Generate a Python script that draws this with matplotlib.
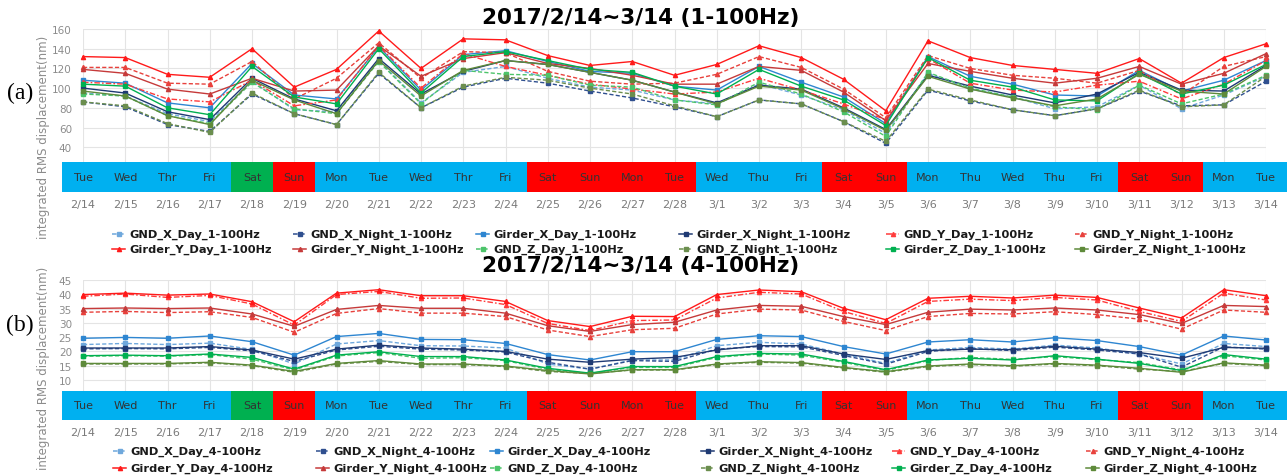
import matplotlib
matplotlib.use("Agg")
import matplotlib.pyplot as plt

# ---- data -------------------------------------------------------------
dates = ['2/14', '2/15', '2/16', '2/17', '2/18', '2/19', '2/20', '2/21', '2/22',
         '2/23', '2/24', '2/25', '2/26', '2/27', '2/28', '3/1', '3/2', '3/3',
         '3/4', '3/5', '3/6', '3/7', '3/8', '3/9', '3/10', '3/11', '3/12',
         '3/13', '3/14']
weekdays = ['Tue', 'Wed', 'Thr', 'Fri', 'Sat', 'Sun', 'Mon', 'Tue', 'Wed', 'Thr',
            'Fri', 'Sat', 'Sun', 'Mon', 'Tue', 'Wed', 'Thu', 'Fri', 'Sat', 'Sun',
            'Mon', 'Thu', 'Wed', 'Thu', 'Fri', 'Sat', 'Sun', 'Mon', 'Tue']
# band colour class per day: 'w' work day, 'g' green, 'r' red
day_class = ['w', 'w', 'w', 'w', 'g', 'r', 'w', 'w', 'w', 'w', 'w', 'r', 'r', 'r',
             'r', 'w', 'w', 'w', 'r', 'r', 'w', 'w', 'w', 'w', 'w', 'r', 'r', 'w', 'w']

series_names = ['GND_X_Day', 'GND_X_Night', 'Girder_X_Day', 'Girder_X_Night',
                'GND_Y_Day', 'GND_Y_Night', 'Girder_Y_Day', 'Girder_Y_Night',
                'GND_Z_Day', 'GND_Z_Night', 'Girder_Z_Day', 'Girder_Z_Night']

# (a) 1-100Hz
gnd_x_day_1 = [95, 92, 74, 66, 107, 78, 76, 128, 85, 116, 122, 110, 101, 98, 88,
               84, 104, 93, 78, 54, 115, 99, 91, 79, 81, 103, 79, 93, 112]
gnd_x_night_1 = [86, 81, 63, 56, 94, 74, 63, 115, 80, 101, 110, 105, 97, 90, 81,
                 71, 88, 84, 66, 44, 98, 87, 78, 72, 79, 97, 82, 83, 107]
girder_x_day_1 = [108, 105, 85, 80, 125, 93, 89, 142, 98, 134, 138, 127, 117, 115, 102,
                  98, 122, 106, 91, 64, 132, 112, 104, 93, 92, 118, 97, 108, 128]
girder_x_night_1 = [100, 95, 76, 68, 110, 89, 77, 130, 94, 117, 128, 124, 116, 108, 96,
                    85, 103, 99, 80, 58, 113, 102, 93, 85, 94, 116, 98, 97, 123]
gnd_y_day_1 = [106, 104, 89, 86, 108, 82, 88, 143, 100, 135, 122, 113, 104, 99, 94,
               96, 110, 98, 84, 68, 130, 105, 98, 96, 103, 107, 89, 104, 128]
gnd_y_night_1 = [121, 121, 105, 104, 127, 89, 110, 146, 110, 137, 136, 117, 107, 104, 105,
                 114, 132, 121, 99, 70, 133, 120, 113, 110, 105, 118, 93, 122, 132]
girder_y_day_1 = [132, 131, 114, 111, 140, 101, 119, 158, 120, 150, 149, 133, 123, 127, 113,
                  124, 143, 131, 109, 77, 148, 131, 123, 119, 115, 130, 105, 131, 145]
girder_y_night_1 = [119, 115, 99, 94, 110, 97, 98, 143, 112, 130, 136, 125, 120, 113, 104,
                    104, 122, 118, 96, 67, 125, 117, 110, 105, 110, 122, 104, 115, 135]
gnd_z_day_1 = [94, 92, 72, 64, 106, 79, 74, 127, 84, 118, 114, 113, 103, 101, 88,
               83, 106, 94, 76, 51, 116, 100, 91, 81, 78, 103, 84, 94, 113]
gnd_z_night_1 = [86, 82, 64, 55, 95, 74, 63, 116, 80, 102, 111, 108, 100, 94, 82,
                 71, 88, 84, 66, 46, 99, 88, 78, 72, 79, 98, 81, 83, 112]
girder_z_day_1 = [104, 102, 80, 73, 122, 91, 84, 140, 95, 132, 137, 128, 119, 116, 102,
                  94, 119, 102, 88, 62, 131, 108, 101, 88, 87, 115, 94, 103, 124]
girder_z_night_1 = [97, 92, 72, 63, 108, 88, 74, 128, 92, 118, 128, 124, 116, 108, 96,
                    84, 102, 98, 79, 57, 112, 99, 90, 82, 89, 114, 97, 94, 122]

# (b) 4-100Hz
gnd_x_day_4 = [22.4, 22.8, 22.4, 22.9, 20.7, 15.6, 22.6, 23.8, 22.0, 21.9, 21.2, 15.6,
               13.8, 17.0, 17.0, 22.0, 23.2, 22.6, 19.1, 15.8, 20.5, 21.4, 20.8, 22.2,
               21.2, 19.1, 15.6, 22.8, 21.7]
gnd_x_night_4 = [20.9, 21.0, 20.9, 21.4, 20.2, 16.5, 20.5, 21.8, 20.8, 20.5, 19.8, 16.2,
                 13.8, 16.8, 16.5, 20.8, 21.7, 21.6, 18.6, 15.5, 20.0, 21.0, 20.3, 21.5,
                 20.5, 19.1, 14.5, 21.6, 20.8]
girder_x_day_4 = [24.6, 24.9, 24.6, 25.4, 23.4, 18.7, 25.2, 26.3, 24.2, 24.1, 22.8, 18.9,
                  17.0, 19.9, 19.9, 24.2, 25.5, 25.2, 21.7, 19.1, 23.3, 24.1, 23.3, 24.8,
                  23.8, 21.7, 18.7, 25.4, 24.0]
girder_x_night_4 = [21.2, 21.2, 21.2, 21.7, 20.5, 17.3, 20.8, 22.2, 21.2, 20.8, 20.0, 17.3,
                    16.2, 17.3, 17.9, 20.5, 22.0, 22.0, 19.1, 17.2, 20.3, 20.8, 20.6, 21.8,
                    20.8, 19.6, 17.6, 21.4, 21.1]
gnd_y_day_4 = [39.3, 40.1, 38.9, 39.6, 36.6, 29.2, 39.9, 41.0, 38.6, 38.7, 36.4, 29.8,
               27.3, 30.8, 31.0, 38.7, 40.7, 40.1, 34.0, 29.8, 37.5, 38.3, 37.8, 38.9,
               38.0, 34.0, 30.5, 40.4, 38.0]
gnd_y_night_4 = [33.7, 34.0, 33.6, 33.9, 31.9, 26.7, 33.3, 35.0, 33.4, 33.4, 32.2, 27.5,
                 25.2, 27.6, 28.1, 33.1, 34.8, 34.5, 30.5, 27.3, 32.2, 33.3, 33.1, 33.9,
                 32.9, 31.3, 27.8, 34.5, 33.7]
girder_y_day_4 = [39.9, 40.4, 39.7, 40.1, 37.4, 30.4, 40.4, 41.6, 39.5, 39.5, 37.5, 30.8,
                  28.7, 32.3, 32.2, 39.9, 41.5, 40.9, 35.1, 31.1, 38.6, 39.3, 38.7, 39.7,
                  38.9, 35.2, 31.7, 41.6, 39.5]
girder_y_night_4 = [35.0, 35.2, 35.0, 35.2, 33.1, 28.8, 34.7, 36.1, 35.1, 35.1, 33.4, 29.0,
                    27.0, 29.4, 30.2, 34.5, 36.1, 35.8, 32.2, 29.4, 33.7, 34.8, 34.5, 35.2,
                    34.5, 32.9, 29.8, 36.1, 35.7]
gnd_z_day_4 = [18.3, 18.5, 18.3, 18.9, 17.3, 13.5, 18.4, 19.6, 17.6, 17.8, 16.8, 13.7,
               12.3, 14.4, 14.4, 17.9, 19.1, 18.7, 16.2, 13.3, 16.8, 17.9, 17.2, 18.2,
               17.1, 16.1, 13.5, 18.5, 17.0]
gnd_z_night_4 = [15.6, 15.6, 15.6, 16.0, 15.0, 12.7, 15.6, 16.5, 15.4, 15.4, 14.7, 13.0,
                 12.3, 13.5, 13.5, 15.4, 16.2, 15.9, 14.2, 12.7, 14.7, 15.4, 14.8, 15.6,
                 15.0, 13.8, 13.0, 15.8, 15.0]
girder_z_day_4 = [18.5, 18.7, 18.5, 19.1, 17.9, 13.8, 18.7, 19.9, 18.2, 18.2, 17.0, 14.1,
                  12.4, 14.7, 14.7, 18.2, 19.3, 19.1, 16.5, 13.6, 17.0, 17.6, 17.0, 18.5,
                  17.3, 15.8, 13.3, 18.9, 17.3]
girder_z_night_4 = [15.8, 15.8, 15.8, 16.2, 15.2, 13.0, 15.8, 16.8, 15.6, 15.6, 14.9, 13.3,
                    12.1, 13.6, 13.6, 15.6, 16.4, 16.1, 14.4, 12.9, 14.9, 15.6, 15.0, 15.8,
                    15.2, 14.1, 12.7, 16.0, 15.2]

data_1 = [gnd_x_day_1, gnd_x_night_1, girder_x_day_1, girder_x_night_1,
          gnd_y_day_1, gnd_y_night_1, girder_y_day_1, girder_y_night_1,
          gnd_z_day_1, gnd_z_night_1, girder_z_day_1, girder_z_night_1]
data_4 = [gnd_x_day_4, gnd_x_night_4, girder_x_day_4, girder_x_night_4,
          gnd_y_day_4, gnd_y_night_4, girder_y_day_4, girder_y_night_4,
          gnd_z_day_4, gnd_z_night_4, girder_z_day_4, girder_z_night_4]

# ---- styles -----------------------------------------------------------
DASH = (0, (3, 1.6))
DASHDOT = (0, (4, 1.5, 1.2, 1.5))
colors = ['#6FA8DC', '#2F4F8F', '#2E86D1', '#1F3A73',
          '#FF3B3B', '#E8413C', '#FF1A1A', '#C63A3A',
          '#4CC46A', '#6B8E4E', '#00B050', '#5E8A3A']
styles = [DASH, DASH, '-', '-', DASHDOT, DASH, '-', '-', DASH, DASH, '-', '-']
markers = ['s', 's', 's', 's', '^', '^', '^', '^', 's', 's', 's', 's']
band_colors = {'w': '#00B0F0', 'g': '#00B050', 'r': '#FF0000'}

W, H = 1287, 477


def frac_box(x0, y0, x1, y1):
    """pixel box (top-left origin) -> figure fraction rect"""
    return [x0 / W, 1 - y1 / H, (x1 - x0) / W, (y1 - y0) / H]


def draw_lines(ax, data, ylim, yticks):
    x = list(range(len(dates)))
    for vals, c, ls, m in zip(data, colors, styles, markers):
        ax.plot(x, vals, color=c, linestyle=ls, linewidth=1.0, marker=m,
                markersize=3, clip_on=False)
    ax.set_xlim(0, len(dates) - 1)
    ax.set_ylim(*ylim)
    ax.set_xticks(x)
    ax.set_xticklabels([])
    ax.set_yticks(yticks)
    ax.tick_params(length=0, labelsize=7.5, labelcolor='#8C8C8C', pad=8)
    ax.grid(color='#E4E4E4', linewidth=0.8)
    ax.set_axisbelow(True)
    for s in ax.spines.values():
        s.set_visible(False)


def draw_band(ax):
    x = list(range(len(dates)))
    ax.bar(x, [1] * len(x), width=1.0, color=[band_colors[k] for k in day_class])
    for xi, d in zip(x, weekdays):
        ax.text(xi, 0.5, d, ha='center', va='center', fontsize=8,
                color='#333333')
    ax.set_xlim(-0.5, len(dates) - 0.5)
    ax.set_ylim(0, 1)
    ax.set_xticks(x)
    ax.set_xticklabels(dates, fontsize=8, color='#7A7A7A')
    ax.set_yticks([])
    ax.tick_params(length=0, pad=5)
    for s in ax.spines.values():
        s.set_visible(False)


def draw_legend(ax, suffix, text_x, rows_y):
    for i, name in enumerate(series_names):
        tx = text_x[i % 6]
        ty = rows_y[i // 6]
        ax.plot([tx - 17, tx - 4], [ty, ty], color=colors[i], linestyle=styles[i],
                linewidth=1.1)
        ax.plot([tx - 10.5], [ty], color=colors[i], marker=markers[i], markersize=3)
        ax.text(tx, ty, name + suffix, ha='left', va='center', fontsize=8.2,
                fontweight='bold', color='#1A1A1A')


fig = plt.figure(figsize=(W / 100, H / 100), dpi=100)

ax_a = fig.add_axes(frac_box(83, 30, 1266, 163))
draw_lines(ax_a, data_1, (25, 160), range(40, 161, 20))
band_a = fig.add_axes(frac_box(62, 163, 1287, 193))
draw_band(band_a)

ax_b = fig.add_axes(frac_box(83, 281, 1266, 392))
draw_lines(ax_b, data_4, (6.15, 45), range(10, 46, 5))
band_b = fig.add_axes(frac_box(62, 392, 1287, 421))
draw_band(band_b)

# overlay for titles, labels and legends (pixel coordinates)
over = fig.add_axes([0, 0, 1, 1])
over.set_xlim(0, W)
over.set_ylim(H, 0)
over.axis('off')
over.patch.set_alpha(0)

over.text(641, 18, '2017/2/14~3/14 (1-100Hz)', ha='center', va='center',
          fontsize=15.5, fontweight='bold')
over.text(641, 266, '2017/2/14~3/14 (4-100Hz)', ha='center', va='center',
          fontsize=15.5, fontweight='bold')
over.text(20, 93, '(a)', ha='center', va='center', fontsize=17,
          family='Liberation Serif')
over.text(20, 325, '(b)', ha='center', va='center', fontsize=17,
          family='Liberation Serif')
over.text(44, 137, 'integrated RMS displacement(nm)', rotation=90, ha='center',
          va='center', fontsize=8.5, color='#8C8C8C')
over.text(44, 368, 'integrated RMS displacement(nm)', rotation=90, ha='center',
          va='center', fontsize=8.5, color='#8C8C8C')

draw_legend(over, '_1-100Hz', [129, 310, 493, 696, 903, 1092], [235, 250])
draw_legend(over, '_4-100Hz', [130, 333, 507, 718, 909, 1103], [452, 469])

fig.savefig('out.png', dpi=100)
